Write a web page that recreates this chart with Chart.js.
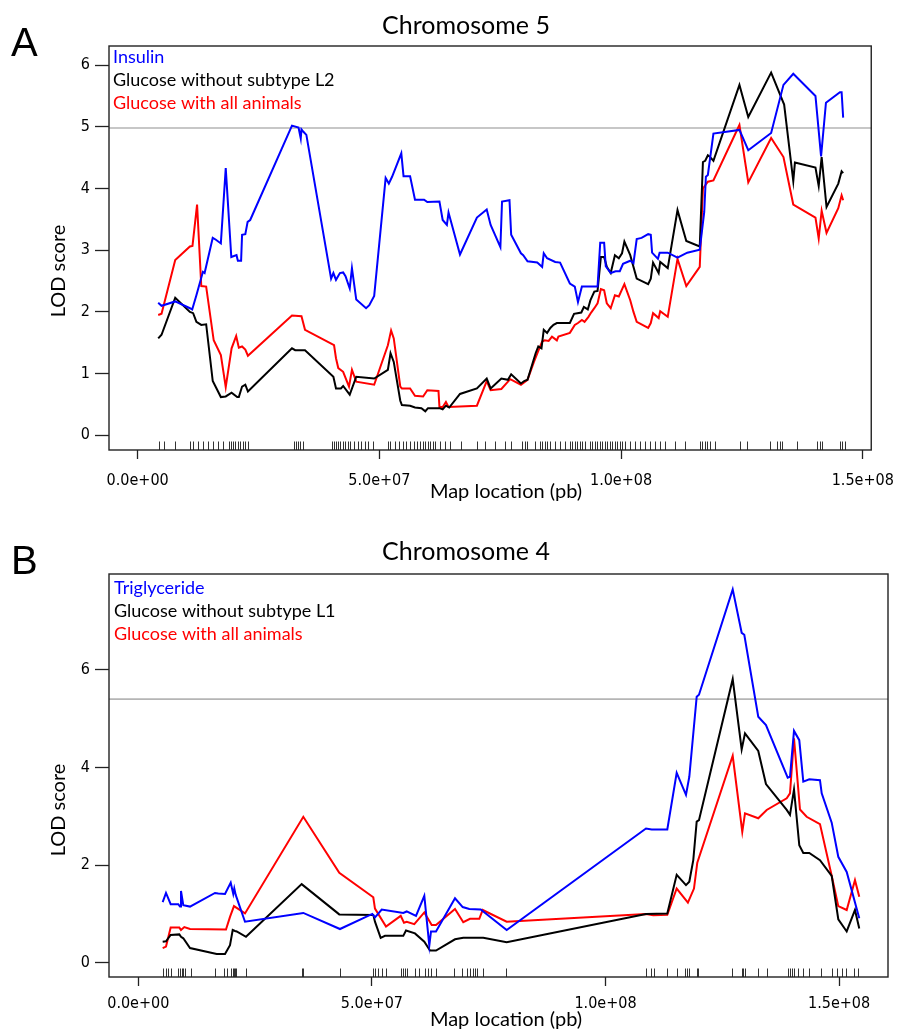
<!DOCTYPE html>
<html>
<head>
<meta charset="utf-8">
<script src="https://cdn.jsdelivr.net/npm/chart.js@4.4.1/dist/chart.umd.min.js"></script>
<style>
  html, body { margin: 0; padding: 0; background: #fff; }
  body { width: 906px; height: 1030px; position: relative; overflow: hidden; }
  .panel { position: absolute; left: 0; width: 906px; height: 515px; }
  #panelA { top: 0; }
  #panelB { top: 515px; }
</style>
</head>
<body>
<div class="panel" id="panelA"><canvas id="chartA" width="906" height="515"></canvas></div>
<div class="panel" id="panelB"><canvas id="chartB" width="906" height="515"></canvas></div>
<script>
// positions in Mb, LOD scores

// Panel A - chromosome 5
const insulinA = [[4.25,2.15],[4.94,2.10],[7.77,2.17],[10.81,2.06],[11.28,2.04],[12.15,2.27],[13.50,2.65],[13.85,2.63],[15.53,3.20],[16.19,3.17],[17.21,3.11],[18.22,4.33],[19.37,2.89],[20.45,2.92],[20.73,2.83],[21.40,2.83],[21.60,3.25],[22.27,3.26],[22.75,3.46],[23.28,3.49],[31.92,5.02],[33.28,4.99],[33.74,4.81],[33.89,4.96],[34.29,4.92],[34.90,4.87],[40.02,2.54],[40.49,2.63],[41.03,2.52],[41.84,2.63],[42.51,2.64],[43.00,2.58],[43.87,2.38],[44.33,2.71],[45.22,2.20],[47.25,2.06],[47.92,2.11],[48.93,2.26],[51.30,4.17],[51.96,4.08],[52.63,4.19],[54.54,4.57],[55.00,4.20],[56.36,4.20],[57.37,3.82],[59.25,3.82],[59.92,3.78],[62.43,3.79],[63.10,3.49],[63.97,3.41],[64.31,3.61],[66.68,2.93],[70.18,3.53],[72.21,3.66],[73.02,3.41],[75.04,3.05],[75.38,3.79],[76.92,3.81],[77.27,3.25],[79.29,2.95],[79.76,2.92],[80.65,2.82],[82.67,2.80],[83.68,2.73],[84.01,2.95],[84.70,2.87],[86.38,2.81],[87.39,2.80],[89.41,2.46],[90.43,2.41],[91.09,2.16],[91.90,2.41],[93.81,2.41],[95.14,2.41],[95.69,3.12],[96.50,3.12],[96.84,2.74],[97.86,2.63],[98.87,2.66],[99.74,2.66],[100.41,2.78],[101.90,2.83],[102.57,2.79],[103.24,3.18],[104.25,3.20],[105.61,3.26],[106.15,3.25],[106.42,2.96],[107.63,2.86],[107.98,2.96],[109.66,2.96],[111.68,2.88],[113.70,2.96],[116.28,3.01],[117.21,3.62],[117.55,4.19],[117.96,4.22],[119.11,4.89],[124.49,4.95],[126.32,4.62],[131.05,4.90],[133.60,5.68],[135.63,5.86],[140.22,5.50],[141.38,4.52],[142.39,5.39],[145.28,5.56],[145.63,5.56],[145.95,5.15]];

const glucoseNoL2A = [[4.25,1.57],[4.94,1.63],[7.77,2.23],[10.81,2.00],[11.48,1.98],[12.15,1.84],[13.16,1.79],[14.17,1.80],[15.53,0.88],[17.21,0.62],[18.22,0.63],[19.43,0.69],[20.59,0.62],[20.93,0.62],[21.60,0.79],[22.27,0.82],[22.81,0.71],[31.92,1.41],[32.59,1.38],[34.62,1.38],[40.49,0.95],[41.03,0.76],[42.04,0.76],[42.51,0.80],[43.87,0.66],[45.22,0.95],[48.93,0.92],[51.76,1.06],[52.31,1.33],[52.98,1.19],[54.33,0.56],[54.66,0.49],[56.36,0.48],[57.37,0.45],[58.70,0.44],[59.51,0.39],[60.06,0.44],[62.43,0.44],[63.10,0.42],[63.77,0.48],[64.45,0.45],[66.68,0.67],[70.18,0.76],[72.21,0.92],[73.02,0.76],[75.24,0.92],[76.60,0.90],[77.27,0.99],[79.29,0.84],[79.96,0.88],[80.65,0.90],[82.33,1.33],[82.88,1.44],[83.54,1.41],[84.01,1.71],[84.70,1.66],[85.37,1.74],[86.03,1.79],[86.72,1.82],[89.41,1.82],[90.28,1.97],[90.97,1.98],[91.78,1.99],[92.31,2.08],[93.12,2.04],[93.67,2.19],[94.47,2.33],[95.14,2.34],[95.83,2.89],[96.50,2.89],[97.05,2.73],[97.86,2.63],[98.73,2.92],[99.54,2.87],[100.20,2.95],[100.69,3.14],[101.90,2.92],[103.24,2.54],[105.61,2.45],[106.15,2.54],[106.62,2.80],[107.78,2.63],[108.10,2.81],[109.66,2.71],[111.68,3.65],[113.50,3.15],[116.28,3.06],[116.94,4.43],[117.41,4.45],[117.96,4.54],[118.30,4.52],[119.11,4.45],[124.49,5.68],[126.32,5.16],[131.05,5.88],[133.74,5.36],[135.63,4.12],[135.97,4.42],[140.22,4.34],[140.89,4.04],[141.50,4.51],[142.51,3.70],[144.94,4.08],[145.63,4.28],[145.95,4.25]];

const glucoseAllA = [[4.25,1.95],[4.94,1.97],[7.77,2.84],[10.81,3.06],[11.34,3.07],[12.29,3.74],[13.16,2.42],[14.17,2.41],[15.73,1.54],[17.21,1.30],[18.22,0.78],[19.43,1.41],[20.38,1.61],[20.93,1.42],[21.60,1.44],[22.27,1.39],[22.81,1.29],[31.92,1.94],[33.89,1.93],[34.62,1.71],[40.63,1.46],[41.03,1.25],[41.50,1.09],[42.51,1.03],[43.72,0.79],[44.33,1.06],[45.22,0.87],[48.93,0.82],[51.76,1.46],[52.43,1.70],[52.98,1.57],[54.33,0.79],[54.66,0.76],[56.36,0.76],[57.37,0.64],[59.05,0.63],[59.92,0.73],[62.23,0.72],[62.43,0.46],[63.10,0.46],[63.77,0.54],[64.31,0.46],[70.18,0.48],[72.21,0.88],[73.02,0.73],[75.24,0.75],[77.07,0.91],[79.29,0.82],[80.65,0.90],[81.98,1.19],[82.88,1.37],[83.68,1.52],[84.21,1.54],[85.02,1.53],[85.71,1.60],[86.72,1.54],[87.04,1.60],[89.41,1.66],[90.43,1.79],[91.09,1.82],[91.90,1.87],[92.45,1.84],[93.26,1.92],[93.81,1.99],[94.47,2.06],[95.14,2.14],[95.83,2.37],[96.50,2.35],[97.05,2.14],[97.86,2.06],[98.73,2.27],[99.54,2.25],[100.69,2.45],[101.90,2.19],[102.57,2.00],[103.24,1.84],[105.61,1.74],[106.15,1.82],[106.62,1.98],[107.78,1.90],[108.10,2.01],[109.66,1.92],[111.68,2.86],[113.50,2.42],[116.28,2.73],[116.94,4.00],[117.96,4.11],[119.11,4.13],[124.49,5.03],[126.32,4.10],[131.05,4.82],[133.60,4.51],[135.63,3.74],[140.22,3.53],[140.89,3.19],[141.50,3.64],[142.51,3.28],[144.94,3.68],[145.63,3.89],[145.95,3.81]];

const markersA = [4.45,5.48,7.75,10.85,11.37,12.41,13.44,14.47,15.51,16.54,17.58,18.92,19.33,19.75,20.16,20.68,21.19,21.71,22.23,22.74,32.36,32.77,33.19,33.60,34.12,40.11,40.63,41.04,41.46,41.87,42.39,42.90,43.42,43.94,44.76,45.49,46.21,47.04,47.56,48.59,51.69,52.21,53.24,54.07,54.79,55.52,56.34,57.17,57.89,58.41,58.93,59.44,59.96,60.48,61.00,61.51,62.55,63.58,64.61,66.89,70.30,71.85,73.92,75.98,77.22,79.60,80.12,80.64,82.19,83.22,83.74,84.25,84.77,85.29,86.32,87.36,88.39,89.42,89.94,90.46,90.97,91.49,92.01,92.53,93.56,94.08,94.59,95.11,95.63,96.14,96.66,97.18,97.69,98.21,98.73,99.24,99.76,100.28,100.79,101.83,102.86,103.90,104.93,105.96,107.00,108.03,109.07,111.14,113.20,116.30,116.82,117.34,117.85,118.37,119.40,124.57,126.12,130.77,132.33,132.84,133.36,136.46,140.60,141.11,141.63,145.25,145.77,146.28];

// Panel B - chromosome 4
const triglycerideB = [[5.22,1.24],[5.93,1.43],[6.93,1.20],[8.56,1.20],[8.93,1.15],[9.14,1.47],[9.63,1.18],[11.07,1.15],[16.42,1.43],[17.12,1.42],[18.56,1.41],[19.78,1.64],[20.33,1.41],[20.55,1.52],[20.85,1.39],[22.84,0.84],[35.32,1.02],[43.17,0.69],[50.09,1.00],[50.66,0.93],[52.10,1.09],[56.72,1.02],[57.45,1.05],[59.44,0.96],[61.22,1.37],[62.29,0.35],[62.65,0.64],[63.72,0.64],[67.79,1.32],[69.44,1.14],[70.85,1.10],[73.29,1.09],[78.85,0.67],[108.67,2.75],[109.89,2.73],[113.23,2.73],[115.24,3.89],[117.23,3.44],[117.94,3.81],[119.52,5.45],[120.01,5.49],[127.23,7.65],[129.15,6.76],[129.71,6.72],[132.70,5.04],[134.35,4.87],[139.00,3.79],[139.49,3.81],[140.35,4.75],[141.48,4.56],[142.34,3.71],[143.62,3.76],[145.91,3.74],[146.28,3.47],[148.42,2.87],[149.83,2.17],[151.63,1.86],[154.32,0.91]];

const glucoseNoL1B = [[5.22,0.43],[5.93,0.44],[6.93,0.57],[8.78,0.58],[9.14,0.53],[9.63,0.50],[11.07,0.30],[16.78,0.18],[18.56,0.18],[19.63,0.36],[20.21,0.67],[20.70,0.65],[21.06,0.64],[23.05,0.53],[34.97,1.61],[43.02,0.99],[50.30,0.98],[50.66,0.84],[51.88,0.51],[52.80,0.55],[56.72,0.55],[57.30,0.66],[59.22,0.60],[61.22,0.43],[62.44,0.25],[63.72,0.25],[67.79,0.48],[69.56,0.51],[73.84,0.51],[78.85,0.42],[108.67,1.00],[113.23,1.01],[115.24,1.80],[117.23,1.59],[117.94,1.66],[118.79,2.10],[119.52,2.89],[120.01,2.92],[127.23,5.81],[129.15,4.37],[129.86,4.70],[132.70,4.34],[134.35,3.66],[138.79,3.13],[139.49,3.03],[140.35,3.55],[141.48,2.41],[142.34,2.25],[143.62,2.25],[145.91,2.10],[148.42,1.78],[149.83,0.89],[151.63,0.64],[153.40,1.08],[154.32,0.70]];

const glucoseAllB = [[5.22,0.30],[5.93,0.33],[6.93,0.72],[8.78,0.72],[9.14,0.67],[9.85,0.73],[11.07,0.69],[18.77,0.68],[19.63,0.94],[20.48,1.16],[22.84,1.01],[35.32,2.99],[43.02,1.84],[50.30,1.34],[50.66,1.11],[53.02,0.74],[56.17,0.96],[56.87,0.82],[57.45,0.84],[59.08,0.79],[61.22,1.03],[62.80,0.77],[63.72,0.77],[67.79,1.10],[69.56,0.83],[71.00,0.90],[72.99,0.90],[73.72,1.08],[78.85,0.84],[108.67,1.00],[110.23,0.97],[113.23,0.98],[115.24,1.52],[117.64,1.23],[118.94,1.52],[119.65,2.05],[127.23,4.24],[129.28,2.68],[129.86,3.06],[132.70,2.96],[134.50,3.13],[138.79,3.37],[139.49,3.47],[140.35,4.60],[141.63,3.14],[143.06,2.99],[145.91,2.84],[148.42,1.78],[149.83,1.16],[151.63,1.08],[153.40,1.69],[154.32,1.35]];

const markersB = [5.35,5.86,6.42,6.93,8.56,8.93,9.29,9.63,10.00,11.21,16.42,18.34,18.92,19.78,20.21,20.48,20.70,20.91,23.05,34.97,35.32,43.17,50.30,50.66,51.24,52.10,53.02,56.17,56.59,57.09,57.45,59.22,60.15,61.37,62.07,62.65,63.72,67.64,69.35,70.29,71.00,71.57,72.07,72.56,73.72,78.70,108.67,109.67,110.38,113.23,115.24,117.02,117.51,117.94,119.52,119.86,127.14,129.15,129.50,129.86,132.58,134.50,139.00,139.49,139.85,140.35,141.27,142.34,143.62,146.13,148.42,149.49,150.56,151.48,153.26,154.11];

const xTicks = [0, 50, 100, 150];          // Mb, labelled in bp
const yTicksA = [0, 1, 2, 3, 4, 5, 6];
const yTicksB = [0, 2, 4, 6];
const thresholdA = 4.98;
const thresholdB = 5.40;

const seriesColors = ['#0000ff', '#000000', '#ff0000'];
const legendA = ['Insulin', 'Glucose without subtype L2', 'Glucose with all animals'];
const legendB = ['Triglyceride', 'Glucose without subtype L1', 'Glucose with all animals'];

const tickFont = { family: "'Liberation Sans Narrow', 'Arial Narrow', 'DejaVu Sans Condensed', sans-serif", size: 16 };
const textFamily = "Lato, 'Open Sans', sans-serif";

// R style exponent labels, e.g. 5.0e+07
function bpLabel(mb) {
    const parts = (mb * 1e6).toExponential(1).split('e');
    return parts[0] + 'e' + parts[1][0] + parts[1].slice(1).padStart(2, '0');
}

// box, threshold, rug, texts
const decorPlugin = {
    id: 'decor',
    beforeDatasetsDraw(chart, args, o) {
        const { ctx, chartArea: a, scales } = chart;
        const y = scales.y.getPixelForValue(o.threshold);
        ctx.save();
        ctx.strokeStyle = '#b5b5b5';
        ctx.lineWidth = 1.6;
        ctx.beginPath();
        ctx.moveTo(a.left, y);
        ctx.lineTo(a.right, y);
        ctx.stroke();
        ctx.restore();
    },
    afterDatasetsDraw(chart, args, o) {
        const { ctx, chartArea: a, scales } = chart;
        ctx.save();
        // rug of markers
        ctx.strokeStyle = '#333';
        ctx.lineWidth = 1;
        ctx.beginPath();
        o.markers.forEach(m => {
            const x = Math.round(scales.x.getPixelForValue(m)) + 0.5;
            ctx.moveTo(x, a.bottom);
            ctx.lineTo(x, a.bottom - 8.5);
        });
        ctx.stroke();

        // plot box
        ctx.strokeStyle = '#222';
        ctx.lineWidth = 1.4;
        ctx.strokeRect(a.left, a.top, a.right - a.left, a.bottom - a.top);

        // legend text inside the box
        ctx.font = '18px ' + textFamily;
        ctx.textAlign = 'left';
        ctx.textBaseline = 'middle';
        o.legend.forEach((t, i) => {
            ctx.fillStyle = seriesColors[i];
            ctx.fillText(t, a.left + o.legendDx, a.top + o.legendDy + i * 23);
        });

        // title, axis titles, panel letter
        ctx.fillStyle = '#000';
        ctx.textAlign = 'center';
        ctx.font = '25px ' + textFamily;
        ctx.fillText(o.title, o.titleX, o.titleY);
        ctx.font = '20px ' + textFamily;
        ctx.fillText('Map location (pb)', o.xTitleX, o.xTitleY);
        ctx.save();
        ctx.translate(o.yTitleX, o.yTitleY);
        ctx.rotate(-Math.PI / 2);
        ctx.fillText('LOD score', 0, 0);
        ctx.restore();
        ctx.textAlign = 'left';
        ctx.font = "40px 'Liberation Sans', Arial, sans-serif";
        ctx.fillText(o.letter, 11, o.letterY);
        ctx.restore();
    }
};

function makeChart(id, cfg) {
    const ctx = document.getElementById(id).getContext('2d');
    return new Chart(ctx, {
        type: 'line',
        data: {
            datasets: cfg.series.map((s, i) => ({
                label: cfg.legend[i],
                data: s,
                borderColor: seriesColors[i],
                borderWidth: 2,
                pointRadius: 0,
                tension: 0,
                fill: false
            }))
        },
        options: {
            responsive: false,
            animation: false,
            layout: { padding: { top: cfg.top, right: 18, left: 0, bottom: 0 } },
            plugins: {
                legend: { display: false },
                tooltip: { enabled: false },
                decor: cfg.decor
            },
            scales: {
                x: {
                    type: 'linear',
                    min: cfg.xMin,
                    max: cfg.xMax,
                    afterBuildTicks: s => { s.ticks = xTicks.map(v => ({ value: v })); },
                    afterFit: s => { s.height = cfg.xHeight; },
                    border: { display: false },
                    grid: { drawOnChartArea: false, drawTicks: true, tickLength: 9, tickColor: '#222', tickWidth: 1.3 },
                    ticks: { font: tickFont, color: '#000', padding: cfg.xPad, maxRotation: 0, callback: v => bpLabel(v) }
                },
                y: {
                    min: cfg.yMin,
                    max: cfg.yMax,
                    afterBuildTicks: s => { s.ticks = cfg.yTicks.map(v => ({ value: v })); },
                    afterFit: s => { s.width = 109; },
                    border: { display: false },
                    grid: { drawOnChartArea: false, drawTicks: true, tickLength: 14, tickColor: '#222', tickWidth: 1.3 },
                    ticks: { font: tickFont, color: '#000', padding: 5, callback: v => String(v) }
                }
            }
        },
        plugins: [decorPlugin]
    });
}

makeChart('chartA', {
    series: [insulinA, glucoseNoL2A, glucoseAllA],
    legend: legendA,
    top: 46, xHeight: 65, xPad: 12,
    xMin: -5.93, xMax: 151.76, yMin: -0.238, yMax: 6.31,
    yTicks: yTicksA,
    decor: {
        threshold: thresholdA, markers: markersA, legend: legendA,
        legendDx: 4, legendDy: 11,
        title: 'Chromosome 5', titleX: 466, titleY: 26,
        xTitleX: 506, xTitleY: 492, yTitleX: 59, yTitleY: 271,
        letter: 'A', letterY: 45
    }
});

makeChart('chartB', {
    series: [triglycerideB, glucoseNoL1B, glucoseAllB],
    legend: legendB,
    top: 59, xHeight: 53, xPad: 8,
    xMin: -6.27, xMax: 160.47, yMin: -0.293, yMax: 7.965,
    yTicks: yTicksB,
    decor: {
        threshold: thresholdB, markers: markersB, legend: legendB,
        legendDx: 5, legendDy: 14,
        title: 'Chromosome 4', titleX: 466, titleY: 37,
        xTitleX: 506, xTitleY: 505, yTitleX: 59, yTitleY: 295,
        letter: 'B', letterY: 48
    }
});
</script>
</body>
</html>
